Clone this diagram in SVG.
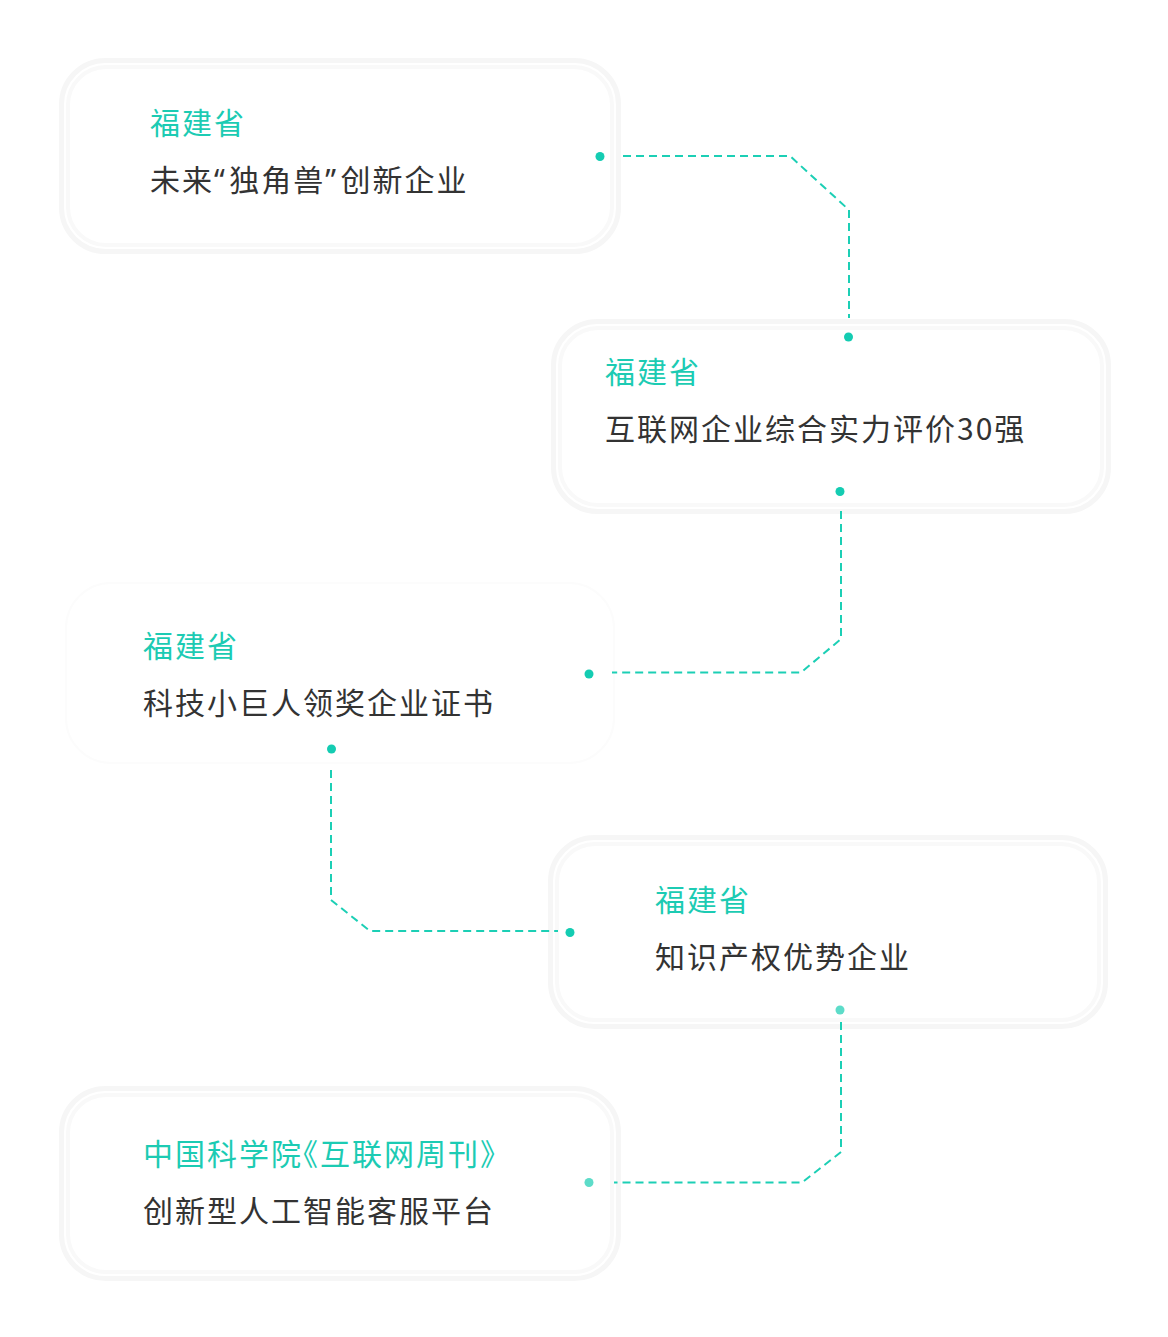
<svg xmlns="http://www.w3.org/2000/svg" width="1168" height="1337" viewBox="0 0 1168 1337">
<style>
.box{fill:#ffffff;stroke:#f6f6f6;stroke-width:5}
.inner{fill:none;stroke:#f9f9f9;stroke-width:4}
.faint{fill:#ffffff;stroke:#fcfcfc;stroke-width:2}
.t{font-family:"Noto Sans CJK SC","Noto Sans",sans-serif;font-size:30px;letter-spacing:2px;fill:#1ccbb3}
.s{font-family:"Noto Sans CJK SC","Noto Sans",sans-serif;font-size:30px;letter-spacing:2px;fill:#333333}
.q{font-family:"Noto Sans",sans-serif;letter-spacing:4.5px}
.h{font-feature-settings:"halt" 1}
.c{fill:none;stroke:#1ccfb5;stroke-width:2;stroke-dasharray:8 5}
.d{fill:#14ccb2}
.dl{fill:#5ddcc9}
</style>
<rect width="1168" height="1337" fill="#ffffff"/>
<g id="node1">
<rect class="box" x="61.5" y="60.5" width="557" height="191" rx="44"/>
<rect class="inner" x="68" y="67" width="544" height="178" rx="38"/>
<text class="t" x="150" y="134">福建省</text>
<text class="s" x="150" y="191">未来<tspan class="q">“</tspan>独角兽<tspan class="q">”</tspan>创新企业</text>
</g>
<g id="node2">
<rect class="box" x="553.5" y="321.5" width="555" height="190" rx="44"/>
<rect class="inner" x="560" y="328" width="542" height="177" rx="38"/>
<text class="t" x="605" y="383">福建省</text>
<text class="s" x="605" y="440">互联网企业综合实力评价30强</text>
</g>
<g id="node3">
<rect class="faint" x="66" y="583" width="548" height="180" rx="45"/>
<text class="t" x="143" y="657">福建省</text>
<text class="s" x="143" y="714">科技小巨人领奖企业证书</text>
</g>
<g id="node4">
<rect class="box" x="550.5" y="837.5" width="555" height="189" rx="44"/>
<rect class="inner" x="557" y="844" width="542" height="176" rx="38"/>
<text class="t" x="655" y="911">福建省</text>
<text class="s" x="655" y="968">知识产权优势企业</text>
</g>
<g id="node5">
<rect class="box" x="61.5" y="1088.5" width="557" height="190" rx="44"/>
<rect class="inner" x="68" y="1095" width="544" height="177" rx="38"/>
<text class="t h" x="143" y="1165">中国科学院《互联网周刊》</text>
<text class="s" x="143" y="1222">创新型人工智能客服平台</text>
</g>
<g id="connectors">
<path class="c" d="M623 156 H790 L849 210 V318"/>
<circle class="d" cx="600" cy="156.5" r="4.5"/>
<circle class="d" cx="848.5" cy="337" r="4.5"/>
<path class="c" d="M841 511 V639 L801 672.5 H612"/>
<circle class="d" cx="840" cy="491.5" r="4.5"/>
<circle class="d" cx="589" cy="674" r="4.5"/>
<path class="c" d="M331 770 V900 L370 931 H558"/>
<circle class="d" cx="331.5" cy="749" r="4.5"/>
<circle class="d" cx="570" cy="932.5" r="4.5"/>
<path class="c" d="M841 1022 V1152 L802 1182.5 H614"/>
<circle class="dl" cx="840" cy="1010" r="4.5"/>
<circle class="dl" cx="589" cy="1182.5" r="4.5"/>
</g>
</svg>
